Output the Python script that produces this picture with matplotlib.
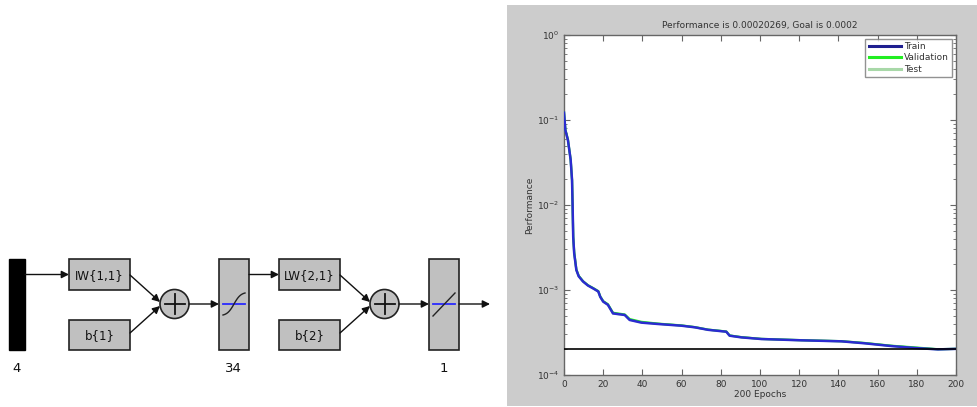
import numpy as np
import matplotlib
matplotlib.use("Agg")
import matplotlib.pyplot as plt
from matplotlib.patches import Rectangle, Circle, FancyArrowPatch
from matplotlib.ticker import LogLocator, NullFormatter, FixedLocator

# performance curve
epochs = [0, 0.7, 2, 3.4, 4.1, 4.4, 4.7, 5.2, 6.3, 7.5, 9.7, 12.2, 15, 17.5, 18.5, 20, 22.4, 25, 31,
          33.5, 39.5, 48, 60, 66.7, 73.5, 82.8, 84.5, 90.5, 100.7, 121, 141.5, 153.4, 167, 179,
          190.8, 200]
train = [0.122, 0.076, 0.058, 0.034, 0.0196, 0.0096, 0.0042, 0.0027, 0.00172, 0.00145, 0.00126,
         0.00113, 0.00104, 0.00096, 0.00083, 0.00073, 0.00067, 0.00053, 0.000508, 0.000444,
         0.000413, 0.000398, 0.00038, 0.000364, 0.00034, 0.000323, 0.00029, 0.000277, 0.000265,
         0.000256, 0.000249, 0.000236, 0.000219, 0.000208, 0.0002, 0.000203]
validation = [0.122, 0.077, 0.059, 0.034, 0.0198, 0.0097, 0.0043, 0.0028, 0.00174, 0.00147, 0.00127,
              0.00114, 0.00105, 0.00097, 0.00084, 0.00074, 0.00068, 0.00054, 0.000515, 0.000455,
              0.000422, 0.000402, 0.000383, 0.000366, 0.000342, 0.000325, 0.000292, 0.000279,
              0.000266, 0.000257, 0.00025, 0.000238, 0.000221, 0.000211, 0.000201, 0.000203]
test = [0.121, 0.076, 0.058, 0.034, 0.0197, 0.0096, 0.0042, 0.0027, 0.00173, 0.00146, 0.00126,
        0.00113, 0.00104, 0.00096, 0.00083, 0.00073, 0.00067, 0.00053, 0.00051, 0.000448,
        0.000416, 0.0004, 0.000381, 0.000365, 0.000341, 0.000324, 0.000291, 0.000278, 0.000265,
        0.000256, 0.000249, 0.000237, 0.00022, 0.000209, 0.0002, 0.000203]
goal = 0.0002
title = "Performance is 0.00020269, Goal is 0.0002"
layer_sizes = ["4", "34", "1"]

GREY = "#c0c0c0"
BG = "#cccccc"
TXT = "#333333"

fig = plt.figure(figsize=(9.77, 4.07), dpi=100)
fig.patch.set_facecolor("white")

# canvas in pixel coordinates for the network diagram and grey panel
cv = fig.add_axes([0, 0, 1, 1])
cv.set_xlim(0, 977)
cv.set_ylim(407, 0)
cv.axis("off")

cv.add_patch(Rectangle((507, 5), 470, 401, facecolor=BG, edgecolor="none", zorder=0))


def box(x0, y0, x1, y1, text=None):
    cv.add_patch(Rectangle((x0, y0), x1 - x0, y1 - y0, facecolor=GREY,
                           edgecolor="#222222", lw=1.2, zorder=2))
    if text:
        cv.text((x0 + x1) / 2, (y0 + y1) / 2 + 1, text, ha="center", va="center",
                fontsize=8.5, color="#111111", zorder=3)


def arrow(x0, y0, x1, y1):
    cv.add_patch(FancyArrowPatch((x0, y0), (x1, y1), arrowstyle="-|>", mutation_scale=11,
                                 color="#111111", lw=1.0, shrinkA=0, shrinkB=0, zorder=4))


def summer(cx, cy):
    cv.add_patch(Circle((cx, cy), 14.5, facecolor=GREY, edgecolor="#222222", lw=1.2, zorder=2))
    cv.plot([cx - 10, cx + 10], [cy, cy], color="#111111", lw=1.3, zorder=3)
    cv.plot([cx, cx], [cy - 10, cy + 10], color="#111111", lw=1.3, zorder=3)


# input bar
cv.add_patch(Rectangle((9, 259), 16, 91, facecolor="black", edgecolor="black", zorder=2))
arrow(25, 274.5, 69, 274.5)

# layer 1
box(69, 259, 130, 290, "IW{1,1}")
box(69, 320, 130, 350, "b{1}")
summer(174.5, 304)
arrow(130, 275, 160, 302)
arrow(130, 333, 160, 306)
arrow(189, 304, 219, 304)
box(219, 259, 249, 350)
cv.plot([223, 245], [304, 304], color="#2a2aff", lw=1.3, zorder=3)
sx = np.linspace(-1, 1, 50)
cv.plot(234 + 11 * sx, 304 - 11 * np.tanh(1.6 * sx) / np.tanh(1.6), color="#222222", lw=1.0, zorder=3)

# layer 2
arrow(249, 274.5, 279, 274.5)
box(279, 259, 340, 290, "LW{2,1}")
box(279, 320, 340, 350, "b{2}")
summer(384.5, 304)
arrow(340, 275, 370, 302)
arrow(340, 333, 370, 306)
arrow(399, 304, 429, 304)
box(429, 259, 459, 350)
cv.plot([433, 455], [304, 304], color="#2a2aff", lw=1.3, zorder=3)
cv.plot([433, 455], [316, 293], color="#222222", lw=1.0, zorder=3)
arrow(459, 304, 490, 304)

for xpos, lab in zip([16.5, 233.5, 443.5], layer_sizes):
    cv.text(xpos, 368, lab, ha="center", va="center", fontsize=9.5, color="#111111")

# performance plot
ax = fig.add_axes([564 / 977, (407 - 375) / 407, (956 - 564) / 977, (375 - 35) / 407])
ax.set_facecolor("white")
ax.semilogy(epochs, test, color="#a8d8a8", lw=1.6, label="Test", zorder=2)
ax.semilogy(epochs, validation, color="#22ee22", lw=1.6, label="Validation", zorder=3)
ax.semilogy(epochs, train, color="#2b2bd0", lw=1.8, label="Train", zorder=4)
ax.axhline(goal, color="black", lw=1.2, zorder=5)

ax.set_xlim(0, 200)
ax.set_ylim(1e-4, 1)
ax.xaxis.set_major_locator(FixedLocator(np.arange(0, 201, 20)))
ax.yaxis.set_major_locator(LogLocator(base=10, numticks=10))
ax.yaxis.set_minor_locator(LogLocator(base=10, subs=np.arange(2, 10), numticks=20))
ax.yaxis.set_minor_formatter(NullFormatter())
ax.tick_params(which="both", direction="in", top=True, right=True, colors="#666666",
               labelcolor=TXT, labelsize=6.5)
ax.tick_params(which="major", length=4)
ax.tick_params(which="minor", length=2)
for sp in ax.spines.values():
    sp.set_color("#666666")
    sp.set_linewidth(1.0)

ax.set_title(title, fontsize=6.5, color=TXT, pad=5)
ax.set_xlabel("200 Epochs", fontsize=6.5, color=TXT, labelpad=1)
ax.set_ylabel("Performance", fontsize=6.5, color=TXT, labelpad=2)

handles, labels = ax.get_legend_handles_labels()
order = [2, 1, 0]
leg = ax.legend([handles[i] for i in order], [labels[i] for i in order], loc="upper right",
                fontsize=6.5, handlelength=3.6, frameon=True, fancybox=False,
                borderaxespad=0.4, labelspacing=0.25, handletextpad=0.3, borderpad=0.4)
leg.get_frame().set_edgecolor("#777777")
leg.get_frame().set_linewidth(1.0)
for t in leg.get_texts():
    t.set_color(TXT)
for ln, c in zip(leg.get_lines(), ["#1f1f90", "#22ee22", "#a8d8a8"]):
    ln.set_linewidth(2.2)
    ln.set_color(c)

fig.savefig("out.png", dpi=100)
